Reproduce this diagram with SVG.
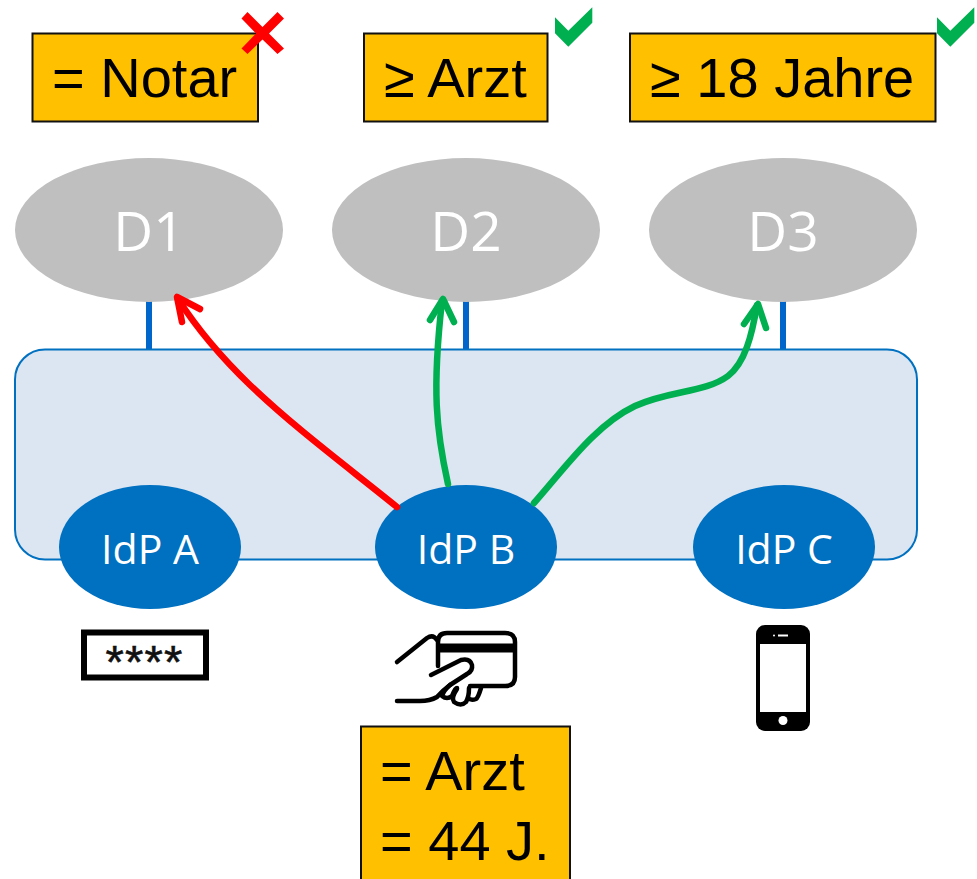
<svg xmlns="http://www.w3.org/2000/svg" width="977" height="879" viewBox="0 0 977 879">
<style>
.box{fill:#ffc000;stroke:#111;stroke-width:2}
.lbl{font-family:"Liberation Sans",Arial,sans-serif;font-size:56px;fill:#000}
.dom{fill:#bfbfbf}
.idp{fill:#0070c0}
.dt{font-family:"Open Sans","Noto Sans",sans-serif;font-size:55px;fill:#fff;text-anchor:middle}
.it{font-family:"Open Sans","Noto Sans",sans-serif;font-size:41px;fill:#fff;text-anchor:middle}
.stem{stroke:#0066cc;stroke-width:6;fill:none}
.arr{fill:none;stroke-width:6.500;stroke-linecap:round;stroke-linejoin:round}
.red{stroke:#ff0000}
.green{stroke:#00b050}
.chk{fill:#00b050}
</style>
<rect width="977" height="879" fill="#fff"/>
<g id="stems">
<path class="stem" d="M149 298V352M466 298V352M783 298V352"/>
</g>
<g id="platform"><rect x="15" y="349.500" width="902" height="210" rx="30" fill="#dce6f2" stroke="#0070c0" stroke-width="2"/></g>
<g id="d1"><ellipse class="dom" cx="149" cy="230" rx="134" ry="72"/><text class="dt" x="149" y="251">D1</text></g>
<g id="d2"><ellipse class="dom" cx="466" cy="230" rx="134" ry="72"/><text class="dt" x="466" y="251">D2</text></g>
<g id="d3"><ellipse class="dom" cx="783" cy="230" rx="134" ry="72"/><text class="dt" x="783" y="251">D3</text></g>
<g id="idp-a"><ellipse class="idp" cx="150" cy="547" rx="91" ry="62"/><text class="it" x="150" y="564">IdP A</text></g>
<g id="idp-b"><ellipse class="idp" cx="466" cy="547" rx="91" ry="62"/><text class="it" x="466" y="564">IdP B</text></g>
<g id="idp-c"><ellipse class="idp" cx="784" cy="547" rx="91" ry="62"/><text class="it" x="784" y="564">IdP C</text></g>
<g id="connectors">
<path class="arr red" d="M397 507C345 465 295 428 250 385C222 358 198 330 178 299"/>
<path class="arr red" d="M200 309L177 297L182 322"/>
<path class="arr green" d="M448 484C436 430 432 390 442 301"/>
<path class="arr green" d="M430 320L443 299L454 322"/>
<path class="arr green" d="M534 503C565 468 595 425 635 406C670 390 705 393 728 376C745 363 752 335 757 305"/>
<path class="arr green" d="M744 324L758 304L766 328"/>
</g>
<g id="req-notar"><rect class="box" x="32.500" y="33.500" width="225.500" height="88"/><text class="lbl" x="52" y="97">= Notar</text></g>
<g id="req-arzt"><rect class="box" x="364" y="33.500" width="183.500" height="88"/><text class="lbl" x="384" y="97">≥ Arzt</text></g>
<g id="req-age"><rect class="box" x="630" y="33.500" width="305.500" height="88"/><text class="lbl" x="650" y="97">≥ 18 Jahre</text></g>
<g id="cross"><path d="M247.500 12L262.500 27L277.500 12L284 18.500L269 33.500L284 48.500L277.500 54L262.500 39.500L247.500 54L241.500 48.500L256 33.500L241.500 18.500Z" fill="#ff0000"/></g>
<g id="check-1"><path class="chk" d="M555 17.300L568.300 30.700L592.300 7.300V22.700L568.300 46.700L555 33.300Z"/></g>
<g id="check-2"><path class="chk" d="M937 17.300L950.300 30.700L974.300 7.300V22.700L950.300 46.700L937 33.300Z"/></g>
<g id="icon-password">
<rect x="84" y="632.500" width="122" height="45" fill="#fff" stroke="#000" stroke-width="6"/>
<text x="144.500" y="678" font-family="Liberation Sans,Arial,sans-serif" font-size="47" text-anchor="middle" letter-spacing="1.200" fill="#111" stroke="#111" stroke-width="0.600">****</text>
</g>
<g id="icon-card" fill="none" stroke="#000" stroke-width="4.500" stroke-linecap="round" stroke-linejoin="round">
<path d="M438 666V642Q438 633 447 633H505Q515 633 515 642V677Q515 686 505 686H470"/>
<path d="M397 662L427 638Q433 634 437 640"/>
<path d="M431 675L461 660Q470 658 472 665Q473 671 467 674L450 685Q443 690 437 697Q430 701 420 701H397"/>
<path d="M450 685Q444 690 442 696Q447 700 452 696Q455 688 457 688"/>
<path d="M457 689Q451 698 454 702Q461 707 466 702Q469 697 469 688"/>
<path d="M481 688Q478 698 476 699Q471 701 468 698"/>
<path d="M437 648H515" stroke-width="9" stroke-linecap="butt"/>
</g>
<g id="icon-phone">
<rect x="756" y="625" width="54" height="106" rx="9" fill="#000"/>
<rect x="760" y="644" width="46" height="68" fill="#fff"/>
<rect x="778" y="634.500" width="10" height="2" fill="#fff"/>
<circle cx="774" cy="635.500" r="1" fill="#fff"/>
<circle cx="783" cy="720.500" r="4.500" fill="#fff"/>
</g>
<g id="idp-b-attrs"><rect class="box" x="361" y="726.500" width="209" height="160"/><text class="lbl" x="380" y="790">= Arzt</text><text class="lbl" x="380" y="860">= 44 J.</text></g>
</svg>
